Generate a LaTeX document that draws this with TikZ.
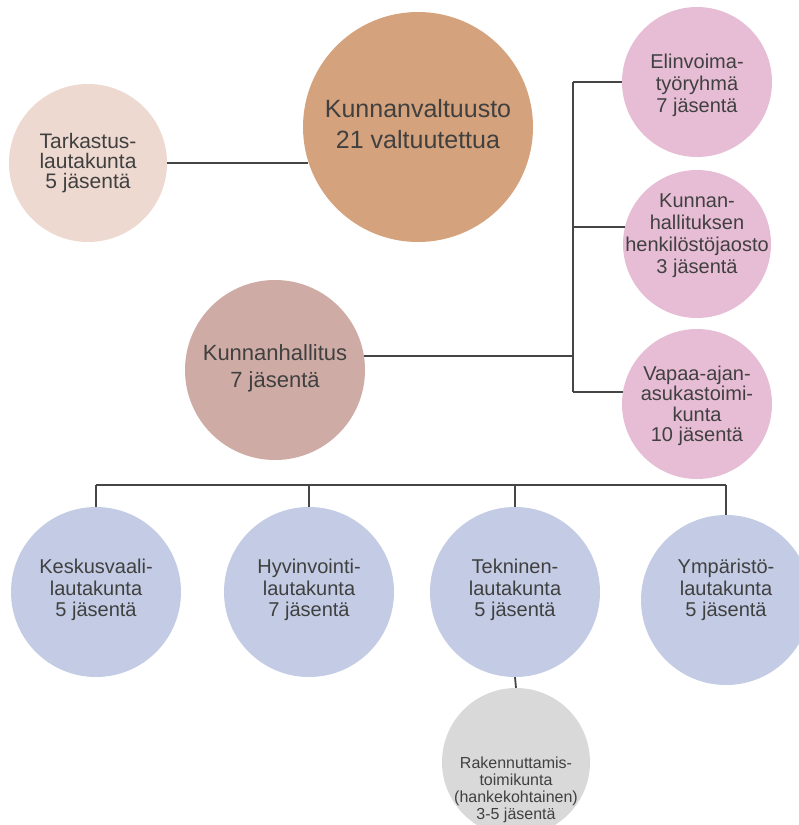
\documentclass[tikz,border=0pt]{standalone}
\usepackage{fontspec}
\setmainfont{Liberation Sans}

\definecolor{tarkc}{HTML}{EED9D1}
\definecolor{valtc}{HTML}{D4A27C}
\definecolor{hallc}{HTML}{CEACA5}
\definecolor{jaostoc}{HTML}{E7BDD5}
\definecolor{lautac}{HTML}{C3CCE4}
\definecolor{toimic}{HTML}{D9D9D9}
\definecolor{txtc}{HTML}{404040}
\definecolor{linec}{HTML}{454545}

\tikzset{
  organ/.style={circle, inner sep=0pt, minimum size=#1},
  says/.style={align=center, text=txtc, inner sep=0pt},
  bigtxt/.style={says, font=\fontsize{25}{31}\selectfont},
  halltxt/.style={says, font=\fontsize{22}{27}\selectfont},
  tarktxt/.style={says, font=\fontsize{21}{20}\selectfont},
  midtxt/.style={says, font=\fontsize{20}{22}\selectfont},
  lautatxt/.style={says, font=\fontsize{20}{21.5}\selectfont},
  smalltxt/.style={says, font=\fontsize{16}{17}\selectfont},
  conn/.style={draw=linec, line width=1.8pt},
}

\begin{document}
\begin{tikzpicture}[x=1pt,y=-1pt]
		\clip (0,0) rectangle (799,825);
		\fill[white] (0,0) rectangle (799,825);
		% valtuusto ja tarkastus
		\node[organ=230pt, fill=valtc, label={[bigtxt, yshift=3pt]center:Kunnanvaltuusto\\21 valtuutettua}] (kv) at (418,127) {};
		\node[organ=158pt, fill=tarkc, label={[tarktxt]center:Tarkastus-\\lautakunta\\5 jäsentä}] (tark) at (88,163) {};
		\node[organ=180pt, fill=hallc, label={[halltxt, yshift=2pt]center:Kunnanhallitus\\7 jäsentä}] (kh) at (275,370) {};
		% jaostot
		\node[organ=150pt, fill=jaostoc, label={[midtxt, yshift=-3pt]center:Elinvoima-\\työryhmä\\7 jäsentä}] (elin) at (697,82) {};
		\node[organ=148pt, fill=jaostoc, label={[midtxt, yshift=8pt]center:Kunnan-\\hallituksen\\henkilöstöjaosto\\3 jäsentä}] (henk) at (697,244) {};
		\node[organ=150pt, fill=jaostoc, label={[midtxt, yshift=-2pt, font=\fontsize{20}{20.5}\selectfont]center:Vapaa-ajan-\\asukastoimi-\\kunta\\10 jäsentä}] (vap) at (697,404) {};
		% lautakunnat
		\node[organ=170pt, fill=lautac, label={[lautatxt, yshift=2pt]center:Keskusvaali-\\lautakunta\\5 jäsentä}] (kesk) at (96,592) {};
		\node[organ=170pt, fill=lautac, label={[lautatxt, yshift=2pt]center:Hyvinvointi-\\lautakunta\\7 jäsentä}] (hyv) at (309,592) {};
		\node[organ=170pt, fill=lautac, label={[lautatxt, yshift=2pt]center:Tekninen-\\lautakunta\\5 jäsentä}] (tekn) at (515,592) {};
		\node[organ=170pt, fill=lautac, label={[lautatxt, yshift=10pt]center:Ympäristö-\\lautakunta\\5 jäsentä}] (ymp) at (726,600) {};
		\node[organ=148pt, fill=toimic, label={[smalltxt, yshift=-28pt]center:Rakennuttamis-\\toimikunta\\(hankekohtainen)\\3-5 jäsentä}] (rak) at (516,762) {};
		% yhteydet
		\coordinate (spine) at (573,0);
		\coordinate (bus) at (0,485);
		\draw[conn] (tark.east) -- (tark.east -| kv.198);
		\draw[conn] (kh.9) -- (kh.9 -| spine);
		\draw[conn] (spine |- elin.west) -- (spine |- vap.171.5);
		\draw[conn] (spine |- elin.west) -- (elin.west);
		\draw[conn] (spine |- henk.167.5) -- (henk.167.5);
		\draw[conn] (spine |- vap.171.5) -- (vap.171.5);
		\draw[conn] (kesk.north |- bus) -- (ymp.north |- bus);
		\foreach \n in {kesk,hyv,tekn,ymp}
			\draw[conn] (\n.north |- bus) -- (\n.north);
		\draw[conn] (tekn.south) -- (rak.north);
\end{tikzpicture}
\end{document}
